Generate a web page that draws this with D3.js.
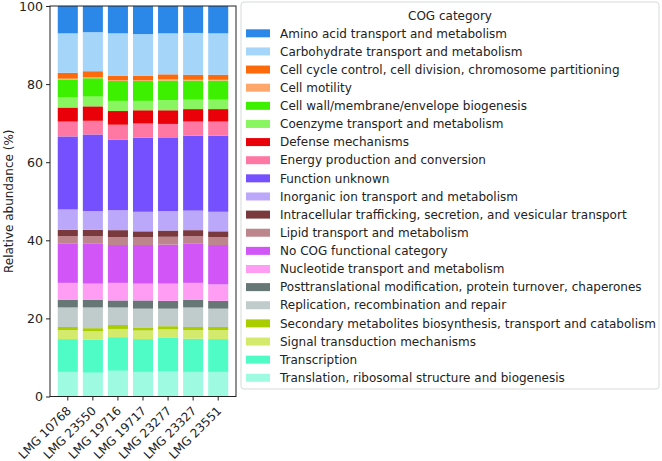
<!DOCTYPE html>
<html>
<head>
<meta charset="utf-8">
<script src="https://cdn.jsdelivr.net/npm/d3@7"></script>
<style>
body { margin: 0; background: #fff; }
text { font-family: "DejaVu Sans", sans-serif; fill: #222; }
</style>
</head>
<body>
<div id="chart"></div>
<script>
// strains on the x axis
var samples = ["LMG 10768", "LMG 23550", "LMG 19716", "LMG 19717", "LMG 23277", "LMG 23327", "LMG 23551"];

// COG categories, legend order (top of stack first)
var categories = [
  "Amino acid transport and metabolism",
  "Carbohydrate transport and metabolism",
  "Cell cycle control, cell division, chromosome partitioning",
  "Cell motility",
  "Cell wall/membrane/envelope biogenesis",
  "Coenzyme transport and metabolism",
  "Defense mechanisms",
  "Energy production and conversion",
  "Function unknown",
  "Inorganic ion transport and metabolism",
  "Intracellular trafficking, secretion, and vesicular transport",
  "Lipid transport and metabolism",
  "No COG functional category",
  "Nucleotide transport and metabolism",
  "Posttranslational modification, protein turnover, chaperones",
  "Replication, recombination and repair",
  "Secondary metabolites biosynthesis, transport and catabolism",
  "Signal transduction mechanisms",
  "Transcription",
  "Translation, ribosomal structure and biogenesis"
];

var colors = ["#2b88e8", "#a6d5fa", "#fd6a0b", "#ffa66b", "#3cf000", "#88f561", "#ea0009",
  "#ff77a2", "#7450ff", "#bca8fb", "#7a3a3d", "#bd868d", "#d155f7", "#ff9cf3",
  "#667775", "#c0cccc", "#aacd00", "#d4ea6c", "#4ffcc6", "#9efbe2"];

// relative abundance (%) per category, one value per sample
var aminoAcid     = [7.0, 6.7, 7.0, 7.2, 7.0, 6.9, 7.0];
var carbohydrate  = [10.1, 10.0, 10.9, 10.7, 10.5, 10.7, 10.6];
var cellCycle     = [1.5, 1.5, 1.1, 1.1, 1.3, 1.3, 1.3];
var cellMotility  = [0.3, 0.3, 0.2, 0.2, 0.3, 0.2, 0.2];
var cellWall      = [4.5, 4.7, 5.1, 5.1, 5.0, 4.9, 4.9];
var coenzyme      = [2.6, 2.5, 2.6, 2.4, 2.6, 2.4, 2.4];
var defense       = [3.6, 3.7, 3.5, 3.4, 3.5, 3.2, 3.2];
var energy        = [3.8, 3.5, 3.8, 3.6, 3.6, 3.6, 3.6];
var funcUnknown   = [18.7, 19.6, 18.1, 19.0, 18.7, 19.2, 19.5];
var inorganic     = [5.2, 4.8, 5.1, 5.0, 5.0, 5.0, 5.0];
var intracellular = [1.6, 1.6, 1.8, 1.5, 1.6, 1.5, 1.5];
var lipid         = [2.0, 2.0, 2.0, 2.0, 2.0, 2.0, 2.0];
var noCog         = [10.0, 10.2, 9.7, 9.9, 10.0, 10.0, 10.1];
var nucleotide    = [4.3, 4.1, 4.5, 4.3, 4.4, 4.3, 4.2];
var posttrans     = [2.0, 2.0, 1.8, 2.1, 2.0, 2.0, 2.0];
var replication   = [5.0, 5.3, 4.5, 4.8, 4.5, 5.0, 4.7];
var secondary     = [0.8, 0.8, 1.0, 0.8, 0.8, 0.8, 0.8];
var signal        = [2.3, 2.2, 2.1, 2.2, 2.2, 2.2, 2.3];
var transcription = [8.4, 8.4, 8.6, 8.4, 8.6, 8.5, 8.4];
var translation   = [6.3, 6.1, 6.6, 6.3, 6.4, 6.3, 6.3];

var series = [aminoAcid, carbohydrate, cellCycle, cellMotility, cellWall, coenzyme, defense,
  energy, funcUnknown, inorganic, intracellular, lipid, noCog, nucleotide, posttrans,
  replication, secondary, signal, transcription, translation];

var yTicks = [0, 20, 40, 60, 80, 100];

// build table for d3.stack
var table = samples.map(function(s, i) {
  var row = {sample: s};
  categories.forEach(function(c, j) { row[c] = series[j][i]; });
  return row;
});

var W = 662, H = 461;
var plot = {left: 50, right: 236, top: 6, bottom: 396.5};

var svg = d3.select("#chart").append("svg")
  .attr("width", W)
  .attr("height", H);

svg.append("rect").attr("width", W).attr("height", H).attr("fill", "#fff");

var x = d3.scaleBand()
  .domain(samples)
  .range([plot.left, plot.right])
  .paddingInner(0.2)
  .paddingOuter(0.31);

var y = d3.scaleLinear()
  .domain([0, 100])
  .range([plot.bottom, plot.top]);

var color = d3.scaleOrdinal().domain(categories).range(colors);

// bottom of stack is last legend entry
var stack = d3.stack().keys(categories.slice().reverse());
var stacked = stack(table);

svg.append("g").selectAll("g")
  .data(stacked)
  .enter().append("g")
    .attr("fill", function(d) { return color(d.key); })
  .selectAll("rect")
  .data(function(d) { return d; })
  .enter().append("rect")
    .attr("x", function(d) { return x(d.data.sample); })
    .attr("y", function(d) { return y(d[1]); })
    .attr("height", function(d) { return y(d[0]) - y(d[1]); })
    .attr("width", x.bandwidth());

// axes frame
svg.append("rect")
  .attr("x", plot.left).attr("y", plot.top)
  .attr("width", plot.right - plot.left)
  .attr("height", plot.bottom - plot.top)
  .attr("fill", "none")
  .attr("stroke", "#222")
  .attr("stroke-width", 1);

var yAxis = svg.append("g")
  .attr("transform", "translate(" + plot.left + ",0)")
  .call(d3.axisLeft(y).tickValues(yTicks).tickSize(4).tickPadding(3));

var xAxis = svg.append("g")
  .attr("transform", "translate(0," + plot.bottom + ")")
  .call(d3.axisBottom(x).tickSize(4).tickPadding(3));

[yAxis, xAxis].forEach(function(a) {
  a.select(".domain").remove();
  a.selectAll("line").attr("stroke", "#222");
  a.selectAll("text")
    .style("font-family", "DejaVu Sans, sans-serif")
    .style("font-size", "12px")
    .attr("fill", "#222");
});
yAxis.selectAll("text").style("font-size", "12.6px");

xAxis.selectAll("text")
  .attr("text-anchor", "end")
  .attr("dy", null)
  .attr("y", 0)
  .attr("transform", "translate(4,15) rotate(-45)");

svg.append("text")
  .attr("transform", "translate(13," + ((plot.top + plot.bottom) / 2) + ") rotate(-90)")
  .attr("text-anchor", "middle")
  .style("font-size", "12px")
  .text("Relative abundance (%)");

// legend
var lg = svg.append("g");
lg.append("rect")
  .attr("x", 241).attr("y", 2)
  .attr("width", 418).attr("height", 387)
  .attr("rx", 3)
  .attr("fill", "#fff")
  .attr("stroke", "#d6dbdb");

lg.append("text")
  .attr("x", 450).attr("y", 16)
  .attr("dy", "0.35em")
  .attr("text-anchor", "middle")
  .style("font-size", "12px")
  .text("COG category");

var item = lg.selectAll(".item")
  .data(categories)
  .enter().append("g")
    .attr("class", "item")
    .attr("transform", function(d, i) { return "translate(0," + (33.3 + i * 18.13) + ")"; });

item.append("rect")
  .attr("x", 246).attr("y", -4)
  .attr("width", 24).attr("height", 8)
  .attr("fill", function(d) { return color(d); });

item.append("text")
  .attr("x", 280)
  .attr("dy", "0.35em")
  .style("font-size", "12px")
  .text(function(d) { return d; });
</script>
</body>
</html>
